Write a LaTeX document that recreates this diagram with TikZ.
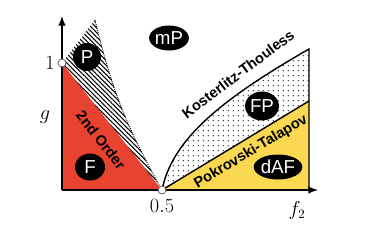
\documentclass[tikz,border=0pt]{standalone}
\usepackage{amsmath,amssymb,amsfonts}
\usepackage{xcolor}
\usepackage{fontspec}
\usepackage{tikz}
\usetikzlibrary{shapes.geometric,patterns.meta}
\newfontfamily\phasefont{Liberation Sans}
\definecolor{ferrored}{RGB}{232,66,48}
\definecolor{dafyellow}{RGB}{251,216,82}

\begin{document}
\begin{tikzpicture}[x=0.03cm, y=-0.03cm,
    phase/.style={ellipse, fill=black, text=white, inner sep=0pt, font=\phasefont\fontsize{16}{16}\selectfont},
    linelabel/.style={font=\phasefont\bfseries\fontsize{12.5}{12.5}\selectfont, inner sep=0pt},
    axislabel/.style={font=\fontsize{16}{16}\selectfont, inner sep=0pt},
    axis/.style={-latex, line width=1.8pt},
    border/.style={line width=1.2pt},
    hatch/.style={pattern={Lines[angle=-45, distance=2.8pt, line width=0.9pt]}},
    dotfill/.style={pattern={Dots[distance=4pt, radius=0.55pt]}},
    endpoint/.style={circle, draw=black!70, fill=white, line width=0.6pt, inner sep=0pt, minimum size=0.24cm}
  ]
    \useasboundingbox (0,0) rectangle (374,242);

    % Coordinates
    \coordinate (origin) at (62,190);
    \coordinate (gone) at (62,63);
    \coordinate (half) at (162,190);
    \coordinate (ptop) at (95,20);
    \coordinate (kt) at (309,49);
    \coordinate (pt) at (309,101);
    \coordinate (corner) at (309,190);
    \coordinate (xend) at (318,190);
    \coordinate (yend) at (62,16);

    % Regions
    \fill[ferrored] (gone) -- (origin) -- (half) -- cycle;
    \fill[hatch] (gone) -- (ptop) to[bend right=8] (half) -- cycle;
    \draw[densely dotted, thick] (ptop) to[bend right=8] (half);
    \fill[dotfill] (half) .. controls (172,140) and (220,100) .. (kt) -- (pt) -- cycle;
    \fill[dafyellow] (half) -- (pt) -- (corner) -- cycle;

    % Boundaries
    \draw[border] (half) .. controls (172,140) and (220,100) .. (kt) -- (corner);
    \draw[border] (half) -- (pt);
    \draw[axis] (origin) -- (yend);
    \draw[axis] (origin) -- (xend);

    % Nodes
    \node[endpoint] (one) at (gone) {};
    \node[endpoint] (crit) at (half) {};
    \node[phase, minimum width=0.84cm, minimum height=0.84cm] (p) at (87,57) {P};
    \node[phase, minimum width=0.9cm, minimum height=0.81cm] (f) at (90,167) {F};
    \node[phase, minimum width=1.05cm, minimum height=0.75cm] (mp) at (169,38) {mP};
    \node[phase, minimum width=1.0cm, minimum height=0.87cm] (fp) at (262,106) {FP};
    \node[phase, minimum width=1.41cm, minimum height=0.75cm] (daf) at (278,167) {dAF};

    % Labels
    \node[linelabel, rotate=37] (ktlabel) at (238,74) {Kosterlitz-Thouless};
    \node[linelabel, rotate=31] (ptlabel) at (251,152) {Pokrovski-Talapov};
    \node[linelabel, rotate=-52] (order) at (101,140) {2nd Order};
    \node[axislabel] (lone) at (50,63) {$1$};
    \node[axislabel] (lg) at (45,117) {$g$};
    \node[axislabel] (lhalf) at (162,206) {$0.5$};
    \node[axislabel] (lf) at (297,210) {$f_2$};
\end{tikzpicture}
\end{document}
